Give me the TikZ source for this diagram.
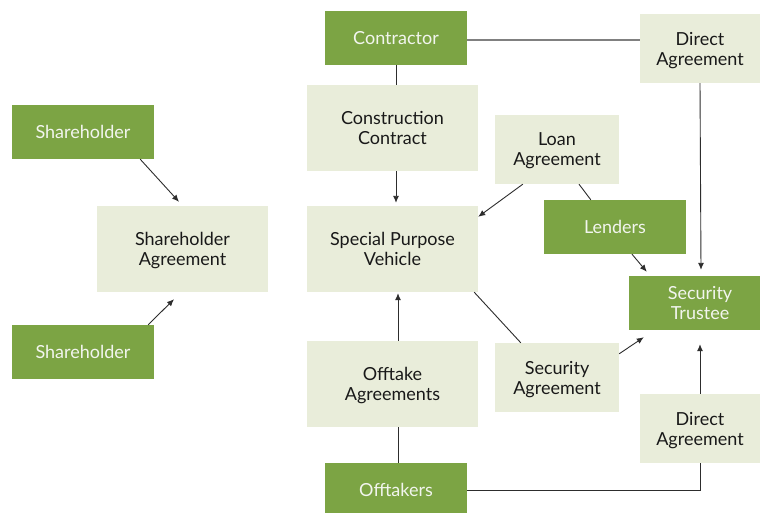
\documentclass[tikz,border=0pt]{standalone}
\usepackage{fontspec}
\setmainfont{Lato}
\usetikzlibrary{arrows.meta,calc}
\definecolor{gbox}{RGB}{124,164,68}
\definecolor{lbox}{RGB}{233,237,218}
\definecolor{ltxt}{RGB}{25,25,25}
\definecolor{wtxt}{RGB}{242,245,238}
\definecolor{lnc}{RGB}{45,45,45}
\begin{document}
\begin{tikzpicture}[x=1pt,y=-1pt,
  every node/.style={inner sep=0pt,align=center,text depth=0pt,font=\fontsize{18}{20}\selectfont},
  party/.style={fill=gbox,text=wtxt,minimum width=142pt,minimum height=54pt},
  doc/.style={fill=lbox,text=ltxt},
  big/.style={doc,minimum width=171pt,minimum height=86pt},
  small/.style={doc,minimum width=124pt,minimum height=69pt},
  da/.style={doc,minimum width=120pt,minimum height=69pt},
  conn/.style={draw=lnc,line width=0.9pt},
  arr/.style={conn,-{Latex[length=7pt,width=6pt]}}]
\useasboundingbox (0,0) rectangle (760,512);
\fill[white] (0,0) rectangle (760,512);
% nodes
\node[party] (sh1) at (83,132) {Shareholder};
\node[big]   (sha) at (182.5,249) {Shareholder\\Agreement};
\node[party] (sh2) at (83,352) {Shareholder};
\node[party] (con) at (396,38) {Contractor};
\node[da]    (da1) at (700,48.5) {Direct\\Agreement};
\node[big]   (cc)  at (392.5,128) {Construction\\Contract};
\node[big]   (spv) at (392.5,249) {Special Purpose\\Vehicle};
\node[small] (la)  at (557,149.5) {Loan\\Agreement};
\node[party] (len) at (615,227) {Lenders};
\node[party] (st)  at (700,303) {Security\\Trustee};
\node[big]   (oa)  at (392.5,384) {Offtake\\Agreements};
\node[small] (sa)  at (557,377.5) {Security\\Agreement};
\node[da]    (da2) at (700,428.5) {Direct\\Agreement};
\node[party] (off) at (396,490) {Offtakers};
% connectors
\draw[arr] ($(sh1.south east)+(-14,0)$) -- ($(sha.north)+(-3.5,-4)$);
\draw[arr] ($(sh2.north east)+(-6,0)$) -- ($(sha.south)+(-8.5,7)$);
\draw[conn] (con.south) -- (con.south |- cc.north);
\draw[arr] (con.south |- cc.south) -- ($(con.south |- spv.north)+(0,-3)$);
\draw[conn,draw=gray,line width=1.2pt] ($(con.east)+(0,2)$) -- ($(con.east -| da1.west)+(0,2)$);
\draw[arr] (da1.south) -- ($(st.north)+(1,-6)$);
\draw[arr] ($(la.south west)+(28,0)$) -- ($(spv.north east)+(0,11)$);
\draw[conn] ($(la.south)+(22,0)$) -- ($(len.north west)+(47,0)$);
\draw[arr] ($(len.south)+(17,0)$) -- ($(st.north west)+(18,-4)$);
\draw[conn] ($(spv.south east)+(-4,0)$) -- ($(sa.north west)+(26,0)$);
\draw[arr] ($(sa.north east)+(0,11)$) -- ($(st.south west)+(15,7)$);
\draw[arr] ($(oa.north)+(5.5,0)$) -- ($(spv.south)+(5.5,1)$);
\draw[conn] ($(off.north)+(2,0)$) -- ($(oa.south)+(5.5,0)$);
\draw[conn] (off.east) -| (da2.south);
\draw[arr] (da2.north) -- ($(st.south)+(0,14)$);
\end{tikzpicture}
\end{document}
